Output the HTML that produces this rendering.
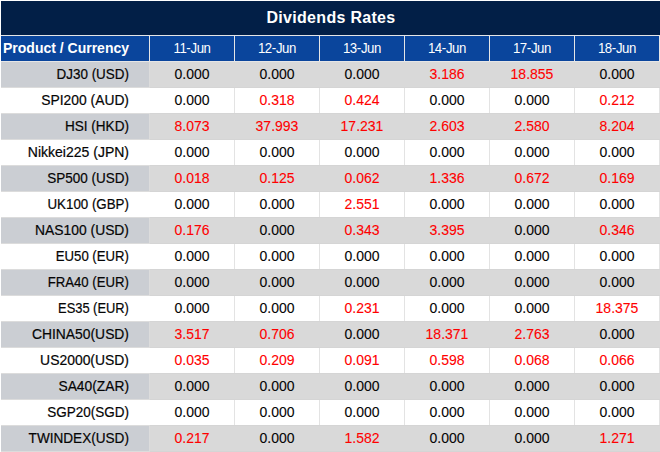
<!DOCTYPE html><html><head><meta charset="utf-8"><style>
*{margin:0;padding:0;box-sizing:border-box}
html,body{width:660px;height:452px;overflow:hidden;background:#fff;position:relative}
div{position:absolute}
.t{font-family:"Liberation Sans",sans-serif;white-space:nowrap}
.title{left:1px;top:1px;width:659px;height:34px;background:#021f47}
.tt{left:1px;width:660px;top:10px;text-align:center;color:#fff;font-weight:bold;font-size:16px;line-height:16px;letter-spacing:0.3px}
.hl{left:1px;width:659px;height:1px;background:#e6e6e6}
.hb{top:36px;height:25px;background:#0a459c}
.hd{color:#fff;font-size:14px;line-height:14px;top:41px;text-align:center;letter-spacing:-0.4px;transform:scaleX(0.945)}
.ph{color:#fff;font-size:14px;line-height:14px;top:41px;left:3px;font-weight:bold}
.c{font-size:14px;line-height:14px;text-align:center;color:#050505;-webkit-text-stroke:0.1px #050505}
.c.r{-webkit-text-stroke:0.1px #ff0000}
.p{font-size:14px;line-height:14px;text-align:right;color:#050505;transform-origin:127.5px 50%;-webkit-text-stroke:0.2px #050505}
.r{color:#ff0000}
</style></head><body>
<div class="title"></div>
<div class="t tt">Dividends Rates</div>
<div class="hl" style="top:35px"></div>

<div class="hb" style="left:1px;width:148px"></div>
<div class="hb" style="left:150px;width:84px"></div>
<div class="hb" style="left:235px;width:84px"></div>
<div class="hb" style="left:320px;width:84px"></div>
<div class="hb" style="left:405px;width:84px"></div>
<div class="hb" style="left:490px;width:84px"></div>
<div class="hb" style="left:575px;width:84px"></div>
<div style="left:149px;top:36px;width:1px;height:25px;background:#e6e6e6"></div>
<div style="left:234px;top:36px;width:1px;height:25px;background:#e6e6e6"></div>
<div style="left:319px;top:36px;width:1px;height:25px;background:#e6e6e6"></div>
<div style="left:404px;top:36px;width:1px;height:25px;background:#e6e6e6"></div>
<div style="left:489px;top:36px;width:1px;height:25px;background:#e6e6e6"></div>
<div style="left:574px;top:36px;width:1px;height:25px;background:#e6e6e6"></div>
<div style="left:659px;top:36px;width:1px;height:25px;background:#e6e6e6"></div>
<div class="t ph">Product / Currency</div>
<div class="t hd" style="left:150px;width:84px">11-Jun</div>
<div class="t hd" style="left:235px;width:84px">12-Jun</div>
<div class="t hd" style="left:320px;width:84px">13-Jun</div>
<div class="t hd" style="left:405px;width:84px">14-Jun</div>
<div class="t hd" style="left:490px;width:84px">17-Jun</div>
<div class="t hd" style="left:575px;width:84px">18-Jun</div>
<div class="hl" style="top:61px"></div>
<div style="left:150px;top:62px;width:510px;height:26px;background:#d9d9d9"></div>
<div style="left:150px;top:87px;width:510px;height:1px;background:#d5d5d5"></div>
<div style="left:1px;top:62px;width:149px;height:26px;background:#dcdcdc"></div>
<div style="left:1px;top:62px;width:148px;height:25px;background:#cbced3"></div>
<div class="t p" style="left:0;width:129px;top:67px;transform:scaleX(0.9586)">DJ30 (USD)</div>
<div class="t c" style="left:150px;width:84px;top:67px">0.000</div>
<div class="t c" style="left:235px;width:84px;top:67px">0.000</div>
<div class="t c" style="left:320px;width:84px;top:67px">0.000</div>
<div class="t c r" style="left:405px;width:84px;top:67px">3.186</div>
<div class="t c r" style="left:490px;width:84px;top:67px">18.855</div>
<div class="t c" style="left:575px;width:84px;top:67px">0.000</div>
<div style="left:234px;top:88px;width:1px;height:25px;background:#e3e3e3"></div>
<div style="left:319px;top:88px;width:1px;height:25px;background:#e3e3e3"></div>
<div style="left:404px;top:88px;width:1px;height:25px;background:#e3e3e3"></div>
<div style="left:489px;top:88px;width:1px;height:25px;background:#e3e3e3"></div>
<div style="left:574px;top:88px;width:1px;height:25px;background:#e3e3e3"></div>
<div style="left:659px;top:88px;width:1px;height:25px;background:#e3e3e3"></div>
<div class="t p" style="left:0;width:129px;top:93px;transform:scaleX(0.9883)">SPI200 (AUD)</div>
<div class="t c" style="left:150px;width:84px;top:93px">0.000</div>
<div class="t c r" style="left:235px;width:84px;top:93px">0.318</div>
<div class="t c r" style="left:320px;width:84px;top:93px">0.424</div>
<div class="t c" style="left:405px;width:84px;top:93px">0.000</div>
<div class="t c" style="left:490px;width:84px;top:93px">0.000</div>
<div class="t c r" style="left:575px;width:84px;top:93px">0.212</div>
<div style="left:150px;top:113px;width:510px;height:27px;background:#d9d9d9"></div>
<div style="left:150px;top:139px;width:510px;height:1px;background:#d5d5d5"></div>
<div style="left:150px;top:113px;width:510px;height:1px;background:#d5d5d5"></div>
<div style="left:1px;top:113px;width:149px;height:27px;background:#dcdcdc"></div>
<div style="left:1px;top:114px;width:148px;height:25px;background:#cbced3"></div>
<div class="t p" style="left:0;width:129px;top:119px;transform:scaleX(0.9685)">HSI (HKD)</div>
<div class="t c r" style="left:150px;width:84px;top:119px">8.073</div>
<div class="t c r" style="left:235px;width:84px;top:119px">37.993</div>
<div class="t c r" style="left:320px;width:84px;top:119px">17.231</div>
<div class="t c r" style="left:405px;width:84px;top:119px">2.603</div>
<div class="t c r" style="left:490px;width:84px;top:119px">2.580</div>
<div class="t c r" style="left:575px;width:84px;top:119px">8.204</div>
<div style="left:234px;top:140px;width:1px;height:25px;background:#e3e3e3"></div>
<div style="left:319px;top:140px;width:1px;height:25px;background:#e3e3e3"></div>
<div style="left:404px;top:140px;width:1px;height:25px;background:#e3e3e3"></div>
<div style="left:489px;top:140px;width:1px;height:25px;background:#e3e3e3"></div>
<div style="left:574px;top:140px;width:1px;height:25px;background:#e3e3e3"></div>
<div style="left:659px;top:140px;width:1px;height:25px;background:#e3e3e3"></div>
<div class="t p" style="left:0;width:129px;top:145px;transform:scaleX(1.0000)">Nikkei225 (JPN)</div>
<div class="t c" style="left:150px;width:84px;top:145px">0.000</div>
<div class="t c" style="left:235px;width:84px;top:145px">0.000</div>
<div class="t c" style="left:320px;width:84px;top:145px">0.000</div>
<div class="t c" style="left:405px;width:84px;top:145px">0.000</div>
<div class="t c" style="left:490px;width:84px;top:145px">0.000</div>
<div class="t c" style="left:575px;width:84px;top:145px">0.000</div>
<div style="left:150px;top:165px;width:510px;height:27px;background:#d9d9d9"></div>
<div style="left:150px;top:191px;width:510px;height:1px;background:#d5d5d5"></div>
<div style="left:150px;top:165px;width:510px;height:1px;background:#d5d5d5"></div>
<div style="left:1px;top:165px;width:149px;height:27px;background:#dcdcdc"></div>
<div style="left:1px;top:166px;width:148px;height:25px;background:#cbced3"></div>
<div class="t p" style="left:0;width:129px;top:171px;transform:scaleX(0.9636)">SP500 (USD)</div>
<div class="t c r" style="left:150px;width:84px;top:171px">0.018</div>
<div class="t c r" style="left:235px;width:84px;top:171px">0.125</div>
<div class="t c r" style="left:320px;width:84px;top:171px">0.062</div>
<div class="t c r" style="left:405px;width:84px;top:171px">1.336</div>
<div class="t c r" style="left:490px;width:84px;top:171px">0.672</div>
<div class="t c r" style="left:575px;width:84px;top:171px">0.169</div>
<div style="left:234px;top:192px;width:1px;height:25px;background:#e3e3e3"></div>
<div style="left:319px;top:192px;width:1px;height:25px;background:#e3e3e3"></div>
<div style="left:404px;top:192px;width:1px;height:25px;background:#e3e3e3"></div>
<div style="left:489px;top:192px;width:1px;height:25px;background:#e3e3e3"></div>
<div style="left:574px;top:192px;width:1px;height:25px;background:#e3e3e3"></div>
<div style="left:659px;top:192px;width:1px;height:25px;background:#e3e3e3"></div>
<div class="t p" style="left:0;width:129px;top:197px;transform:scaleX(0.9515)">UK100 (GBP)</div>
<div class="t c" style="left:150px;width:84px;top:197px">0.000</div>
<div class="t c" style="left:235px;width:84px;top:197px">0.000</div>
<div class="t c r" style="left:320px;width:84px;top:197px">2.551</div>
<div class="t c" style="left:405px;width:84px;top:197px">0.000</div>
<div class="t c" style="left:490px;width:84px;top:197px">0.000</div>
<div class="t c" style="left:575px;width:84px;top:197px">0.000</div>
<div style="left:150px;top:217px;width:510px;height:27px;background:#d9d9d9"></div>
<div style="left:150px;top:243px;width:510px;height:1px;background:#d5d5d5"></div>
<div style="left:150px;top:217px;width:510px;height:1px;background:#d5d5d5"></div>
<div style="left:1px;top:217px;width:149px;height:27px;background:#dcdcdc"></div>
<div style="left:1px;top:218px;width:148px;height:25px;background:#cbced3"></div>
<div class="t p" style="left:0;width:129px;top:223px;transform:scaleX(0.9892)">NAS100 (USD)</div>
<div class="t c r" style="left:150px;width:84px;top:223px">0.176</div>
<div class="t c" style="left:235px;width:84px;top:223px">0.000</div>
<div class="t c r" style="left:320px;width:84px;top:223px">0.343</div>
<div class="t c r" style="left:405px;width:84px;top:223px">3.395</div>
<div class="t c" style="left:490px;width:84px;top:223px">0.000</div>
<div class="t c r" style="left:575px;width:84px;top:223px">0.346</div>
<div style="left:234px;top:244px;width:1px;height:25px;background:#e3e3e3"></div>
<div style="left:319px;top:244px;width:1px;height:25px;background:#e3e3e3"></div>
<div style="left:404px;top:244px;width:1px;height:25px;background:#e3e3e3"></div>
<div style="left:489px;top:244px;width:1px;height:25px;background:#e3e3e3"></div>
<div style="left:574px;top:244px;width:1px;height:25px;background:#e3e3e3"></div>
<div style="left:659px;top:244px;width:1px;height:25px;background:#e3e3e3"></div>
<div class="t p" style="left:0;width:129px;top:249px;transform:scaleX(0.9396)">EU50 (EUR)</div>
<div class="t c" style="left:150px;width:84px;top:249px">0.000</div>
<div class="t c" style="left:235px;width:84px;top:249px">0.000</div>
<div class="t c" style="left:320px;width:84px;top:249px">0.000</div>
<div class="t c" style="left:405px;width:84px;top:249px">0.000</div>
<div class="t c" style="left:490px;width:84px;top:249px">0.000</div>
<div class="t c" style="left:575px;width:84px;top:249px">0.000</div>
<div style="left:150px;top:269px;width:510px;height:27px;background:#d9d9d9"></div>
<div style="left:150px;top:295px;width:510px;height:1px;background:#d5d5d5"></div>
<div style="left:150px;top:269px;width:510px;height:1px;background:#d5d5d5"></div>
<div style="left:1px;top:269px;width:149px;height:27px;background:#dcdcdc"></div>
<div style="left:1px;top:270px;width:148px;height:25px;background:#cbced3"></div>
<div class="t p" style="left:0;width:129px;top:275px;transform:scaleX(0.9401)">FRA40 (EUR)</div>
<div class="t c" style="left:150px;width:84px;top:275px">0.000</div>
<div class="t c" style="left:235px;width:84px;top:275px">0.000</div>
<div class="t c" style="left:320px;width:84px;top:275px">0.000</div>
<div class="t c" style="left:405px;width:84px;top:275px">0.000</div>
<div class="t c" style="left:490px;width:84px;top:275px">0.000</div>
<div class="t c" style="left:575px;width:84px;top:275px">0.000</div>
<div style="left:234px;top:296px;width:1px;height:25px;background:#e3e3e3"></div>
<div style="left:319px;top:296px;width:1px;height:25px;background:#e3e3e3"></div>
<div style="left:404px;top:296px;width:1px;height:25px;background:#e3e3e3"></div>
<div style="left:489px;top:296px;width:1px;height:25px;background:#e3e3e3"></div>
<div style="left:574px;top:296px;width:1px;height:25px;background:#e3e3e3"></div>
<div style="left:659px;top:296px;width:1px;height:25px;background:#e3e3e3"></div>
<div class="t p" style="left:0;width:129px;top:301px;transform:scaleX(0.9195)">ES35 (EUR)</div>
<div class="t c" style="left:150px;width:84px;top:301px">0.000</div>
<div class="t c" style="left:235px;width:84px;top:301px">0.000</div>
<div class="t c r" style="left:320px;width:84px;top:301px">0.231</div>
<div class="t c" style="left:405px;width:84px;top:301px">0.000</div>
<div class="t c" style="left:490px;width:84px;top:301px">0.000</div>
<div class="t c r" style="left:575px;width:84px;top:301px">18.375</div>
<div style="left:150px;top:321px;width:510px;height:27px;background:#d9d9d9"></div>
<div style="left:150px;top:347px;width:510px;height:1px;background:#d5d5d5"></div>
<div style="left:150px;top:321px;width:510px;height:1px;background:#d5d5d5"></div>
<div style="left:1px;top:321px;width:149px;height:27px;background:#dcdcdc"></div>
<div style="left:1px;top:322px;width:148px;height:25px;background:#cbced3"></div>
<div class="t p" style="left:0;width:129px;top:327px;transform:scaleX(0.9895)">CHINA50(USD)</div>
<div class="t c r" style="left:150px;width:84px;top:327px">3.517</div>
<div class="t c r" style="left:235px;width:84px;top:327px">0.706</div>
<div class="t c" style="left:320px;width:84px;top:327px">0.000</div>
<div class="t c r" style="left:405px;width:84px;top:327px">18.371</div>
<div class="t c r" style="left:490px;width:84px;top:327px">2.763</div>
<div class="t c" style="left:575px;width:84px;top:327px">0.000</div>
<div style="left:234px;top:348px;width:1px;height:25px;background:#e3e3e3"></div>
<div style="left:319px;top:348px;width:1px;height:25px;background:#e3e3e3"></div>
<div style="left:404px;top:348px;width:1px;height:25px;background:#e3e3e3"></div>
<div style="left:489px;top:348px;width:1px;height:25px;background:#e3e3e3"></div>
<div style="left:574px;top:348px;width:1px;height:25px;background:#e3e3e3"></div>
<div style="left:659px;top:348px;width:1px;height:25px;background:#e3e3e3"></div>
<div class="t p" style="left:0;width:129px;top:353px;transform:scaleX(0.9931)">US2000(USD)</div>
<div class="t c r" style="left:150px;width:84px;top:353px">0.035</div>
<div class="t c r" style="left:235px;width:84px;top:353px">0.209</div>
<div class="t c r" style="left:320px;width:84px;top:353px">0.091</div>
<div class="t c r" style="left:405px;width:84px;top:353px">0.598</div>
<div class="t c r" style="left:490px;width:84px;top:353px">0.068</div>
<div class="t c r" style="left:575px;width:84px;top:353px">0.066</div>
<div style="left:150px;top:373px;width:510px;height:27px;background:#d9d9d9"></div>
<div style="left:150px;top:399px;width:510px;height:1px;background:#d5d5d5"></div>
<div style="left:150px;top:373px;width:510px;height:1px;background:#d5d5d5"></div>
<div style="left:1px;top:373px;width:149px;height:27px;background:#dcdcdc"></div>
<div style="left:1px;top:374px;width:148px;height:25px;background:#cbced3"></div>
<div class="t p" style="left:0;width:129px;top:379px;transform:scaleX(0.9854)">SA40(ZAR)</div>
<div class="t c" style="left:150px;width:84px;top:379px">0.000</div>
<div class="t c" style="left:235px;width:84px;top:379px">0.000</div>
<div class="t c" style="left:320px;width:84px;top:379px">0.000</div>
<div class="t c" style="left:405px;width:84px;top:379px">0.000</div>
<div class="t c" style="left:490px;width:84px;top:379px">0.000</div>
<div class="t c" style="left:575px;width:84px;top:379px">0.000</div>
<div style="left:234px;top:400px;width:1px;height:25px;background:#e3e3e3"></div>
<div style="left:319px;top:400px;width:1px;height:25px;background:#e3e3e3"></div>
<div style="left:404px;top:400px;width:1px;height:25px;background:#e3e3e3"></div>
<div style="left:489px;top:400px;width:1px;height:25px;background:#e3e3e3"></div>
<div style="left:574px;top:400px;width:1px;height:25px;background:#e3e3e3"></div>
<div style="left:659px;top:400px;width:1px;height:25px;background:#e3e3e3"></div>
<div class="t p" style="left:0;width:129px;top:405px;transform:scaleX(0.9632)">SGP20(SGD)</div>
<div class="t c" style="left:150px;width:84px;top:405px">0.000</div>
<div class="t c" style="left:235px;width:84px;top:405px">0.000</div>
<div class="t c" style="left:320px;width:84px;top:405px">0.000</div>
<div class="t c" style="left:405px;width:84px;top:405px">0.000</div>
<div class="t c" style="left:490px;width:84px;top:405px">0.000</div>
<div class="t c" style="left:575px;width:84px;top:405px">0.000</div>
<div style="left:150px;top:425px;width:510px;height:27px;background:#d9d9d9"></div>
<div style="left:150px;top:451px;width:510px;height:1px;background:#d5d5d5"></div>
<div style="left:150px;top:425px;width:510px;height:1px;background:#d5d5d5"></div>
<div style="left:1px;top:425px;width:149px;height:27px;background:#dcdcdc"></div>
<div style="left:1px;top:426px;width:148px;height:25px;background:#cbced3"></div>
<div class="t p" style="left:0;width:129px;top:431px;transform:scaleX(0.9704)">TWINDEX(USD)</div>
<div class="t c r" style="left:150px;width:84px;top:431px">0.217</div>
<div class="t c" style="left:235px;width:84px;top:431px">0.000</div>
<div class="t c r" style="left:320px;width:84px;top:431px">1.582</div>
<div class="t c" style="left:405px;width:84px;top:431px">0.000</div>
<div class="t c" style="left:490px;width:84px;top:431px">0.000</div>
<div class="t c r" style="left:575px;width:84px;top:431px">1.271</div>
</body></html>
